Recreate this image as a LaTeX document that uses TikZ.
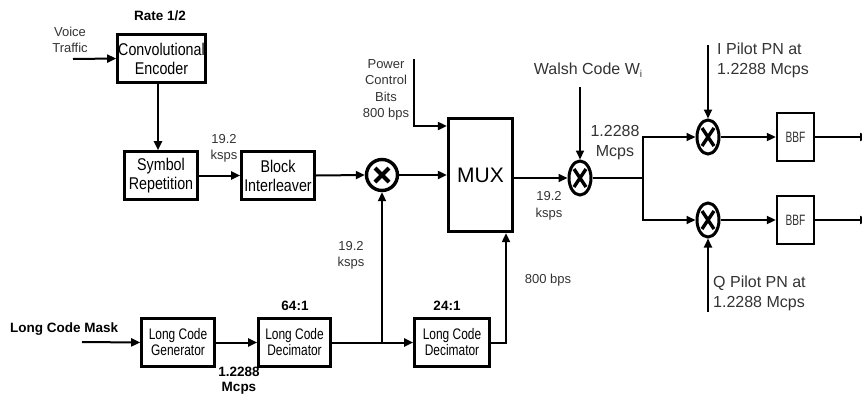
\documentclass[tikz,border=0pt]{standalone}
\usepackage{fontspec}
\setmainfont{Liberation Sans}
\newfontfamily\boxfontA{Liberation Sans}[FakeStretch=0.84]
\newfontfamily\boxfontB{Liberation Sans}[FakeStretch=0.78]
\newfontfamily\boxfontC{Liberation Sans}[FakeStretch=0.68]
\usetikzlibrary{arrows.meta,shapes.geometric}
\begin{document}
\begin{tikzpicture}[x=1pt,y=-1pt,
  blk/.style={draw, line width=2.6pt, inner sep=0pt, align=center, font=\boxfontA\fontsize{17}{19}\selectfont},
  sblk/.style={draw, line width=2.6pt, inner sep=0pt, align=center, font=\boxfontB\fontsize{15.3}{16}\selectfont},
  bbf/.style={draw, line width=2.4pt, minimum width=37pt, minimum height=48pt, inner sep=0pt, text=black!80, font=\boxfontC\fontsize{15}{16}\selectfont},
  ln/.style={line width=2pt, -{Triangle[length=9pt,width=8pt]}},
  plain/.style={line width=2pt},
  lbl/.style={align=center, inner sep=0pt, text=black!80, font=\fontsize{13}{16.5}\selectfont},
  blbl/.style={align=center, inner sep=0pt, font=\bfseries\fontsize{13.5}{15}\selectfont},
  big/.style={align=left, inner sep=0pt, text=black!80, font=\fontsize{16}{20}\selectfont},
  mix/.style={circle, draw, line width=3.4pt, minimum size=31pt, inner sep=0pt,
    path picture={\draw[line width=4pt] ([shift={(-7,-7)}]path picture bounding box.center) -- ([shift={(7,7)}]path picture bounding box.center);
                  \draw[line width=4pt] ([shift={(-7,7)}]path picture bounding box.center) -- ([shift={(7,-7)}]path picture bounding box.center);}},
  emix/.style={ellipse, draw, line width=3pt, minimum width=22pt, minimum height=34pt, inner sep=0pt,
    path picture={\draw[line width=3.4pt] ([shift={(-6,-9)}]path picture bounding box.center) -- ([shift={(6,9)}]path picture bounding box.center);
                  \draw[line width=3.4pt] ([shift={(-6,9)}]path picture bounding box.center) -- ([shift={(6,-9)}]path picture bounding box.center);}}
]
\useasboundingbox (0,0) rectangle (862,397);

% top chain
\node[blbl] (rate) at (160,16) {Rate 1/2};
\node[lbl] (voice) at (70,40) {Voice\\Traffic};
\node[blk, minimum width=88pt, minimum height=48pt] (enc) at (161.5,58.5) {Convolutional\\Encoder};
\node[blk, minimum width=73pt, minimum height=48pt] (sym) at (161,175.5) {Symbol\\Repetition};
\node[blk, minimum width=73pt, minimum height=48pt] (bi) at (278,175.5) {Block\\Interleaver};
\node[lbl] (r1) at (224,148.5) {19.2\\ksps};
\node[mix] (m1) at (382,175) {};
\node[draw, line width=2.8pt, minimum width=64.5pt, minimum height=113.5pt, inner sep=0pt, font=\fontsize{21}{24}\selectfont] (mux) at (480.5,175) {MUX};
\node[lbl] (pcb) at (386,90) {Power\\Control\\Bits\\800 bps};
\node[emix] (wm) at (580,178) {};
\node[big, align=center] (walsh) at (588,70) {Walsh Code W\raisebox{-0.35ex}{\fontsize{10}{10}\selectfont i}};
\node[lbl] (r2) at (549,206) {19.2\\ksps};
\node[big, align=center] (r3) at (615,143) {1.2288\\Mcps};
\node[emix] (im) at (708,137) {};
\node[emix] (qm) at (708,220) {};
\node[big, anchor=west] (ipn) at (717,60) {I Pilot PN at\\1.2288 Mcps};
\node[big, anchor=west] (qpn) at (713,293) {Q Pilot PN at\\1.2288 Mcps};
\node[bbf] (b1) at (795.5,137) {BBF};
\node[bbf] (b2) at (795.5,220) {BBF};

% bottom chain
\node[blbl, anchor=west] (lcm) at (10,329) {Long Code Mask};
\node[sblk, minimum width=73pt, minimum height=48pt] (gen) at (178,342.5) {Long Code\\Generator};
\node[sblk, minimum width=72pt, minimum height=48pt] (d64) at (294.5,342.5) {Long Code\\Decimator};
\node[sblk, minimum width=75pt, minimum height=48pt] (d24) at (452,342.5) {Long Code\\Decimator};
\node[blbl] (r4) at (239,380.5) {1.2288\\Mcps};
\node[blbl] (k64) at (295,306) {64:1};
\node[blbl] (k24) at (447,306) {24:1};
\node[lbl] (r5) at (351,255.5) {19.2\\ksps};
\node[lbl] (r6) at (548,280) {800 bps};

\coordinate (ipnt) at (708,45);
\coordinate (vt) at (73,59);
\coordinate (lcmt) at (82,342);
\coordinate (pc) at (414,59);
\coordinate (wt) at (580,87);
\coordinate (sp) at (643,178);
\coordinate (qpt) at (708,312);
\coordinate (o1) at (869,137);
\coordinate (o2) at (869,220);
\coordinate (jn) at (382,342.5);

% connectors
\draw[ln] (vt) -- (enc.west);
\draw[ln] ([xshift=-3.5pt]enc.south) -- ([xshift=-3.5pt]enc.south |- sym.north);
\draw[ln] (sym.east) -- (bi.west);
\draw[ln] (bi.east) -- (m1.west);
\draw[ln] (m1.east) -- (m1.east -| mux.west);
\draw[ln] (pc) |- ([yshift=49pt]mux.west);
\draw[ln] (mux.east |- wm.west) -- (wm.west);
\draw[ln] (wt) -- (wm.north);
\draw[plain] (wm.east) -- (sp);
\draw[ln] (sp) |- (im.west);
\draw[ln] (sp) |- (qm.west);
\draw[ln] (ipnt) -- (im.north);
\draw[ln] (qpt) -- (qm.south);
\draw[ln] (im.east) -- (b1.west);
\draw[ln] (qm.east) -- (b2.west);
\draw[ln] (b1.east) -- (o1);
\draw[ln] (b2.east) -- (o2);
\draw[ln] (lcmt) -- (gen.west);
\draw[ln] (gen.east) -- (d64.west);
\draw[plain] (d64.east) -- (jn);
\draw[ln] (jn) -- (d24.west);
\draw[ln] (jn) -- (m1.south);
\draw[ln] (d24.east) -| ([xshift=25.5pt]mux.south);
\end{tikzpicture}
\end{document}
